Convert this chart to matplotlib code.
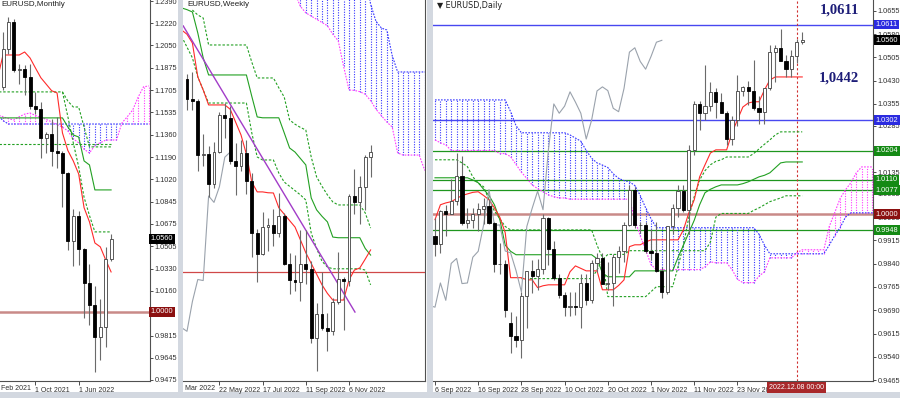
import numpy as np
import matplotlib
matplotlib.use('Agg')
import matplotlib.pyplot as plt
from matplotlib.transforms import blended_transform_factory as blend

# ---------------- monthly: Apr 2021 .. Dec 2022 (index 0..20) ----------------
m_open = [1.1730, 1.2020, 1.2228, 1.1858, 1.1870, 1.1807, 1.1579, 1.1558, 1.1338, 1.1370, 1.1234,
          1.1218, 1.1067, 1.0545, 1.0733, 1.0484, 1.0220, 1.0054, 0.9802, 0.9884, 1.0405]
m_high = [1.2150, 1.2266, 1.2254, 1.1909, 1.1900, 1.1909, 1.1692, 1.1616, 1.1386, 1.1483, 1.1495,
          1.1233, 1.1076, 1.0787, 1.0774, 1.0488, 1.0368, 1.0198, 1.0094, 1.0497, 1.0595]
m_low = [1.1704, 1.1986, 1.1847, 1.1752, 1.1664, 1.1563, 1.1524, 1.1186, 1.1222, 1.1121, 1.1106,
         1.0806, 1.0471, 1.0349, 1.0359, 0.9952, 0.9901, 0.9536, 0.9632, 0.9730, 1.0393]
m_close = [1.2020, 1.2228, 1.1858, 1.1870, 1.1807, 1.1579, 1.1558, 1.1338, 1.1370, 1.1234, 1.1218,
           1.1067, 1.0545, 1.0733, 1.0484, 1.0220, 1.0054, 0.9802, 0.9884, 1.0405, 1.0560]
# indicator lines, index -1..20
m_tenkan = [1.1800, 1.1975, 1.1975, 1.1975, 1.1975, 1.1998, 1.1952, 1.1875, 1.1800, 1.1750, 1.1700,
            1.1683, 1.1375, 1.1240, 1.1160, 1.1060, 1.0800, 1.0691, 1.0529, 1.0499, 1.0399, 1.0306]
m_kijun = [1.1491] * 13 + [1.1421, 1.1360, 1.1344, 1.1160, 1.1129, 1.0937, 1.0937, 1.0937, 1.0937]
m_dash_a = [1.1691] * 13 + [1.1620, 1.1575, 1.1575, 1.1420, 1.1268, 1.1268, 1.1268, 1.1268, 1.1268]
m_dash_b = [1.1291] * 22
# index 11..20
m_dash_c = [1.1691, 1.1500, 1.1300, 1.1114, 1.0880, 1.0740, 1.0614, 1.0614, 1.0614, 1.0614]
# cloud, index -1..27
m_span_a = [1.1514, 1.1470] + [1.1444] * 27
m_span_b = [1.1514, 1.1500, 1.1485, 1.1475, 1.1500, 1.1520, 1.1529, 1.1510, 1.1495, 1.1480, 1.1460,
            1.1440, 1.1420, 1.1390, 1.1330, 1.1300, 1.1250, 1.1221, 1.1280, 1.1300, 1.1320, 1.1321,
            1.1321, 1.1452, 1.1500, 1.1552, 1.1650, 1.1730, 1.1737]
m_yticks = [1.2390, 1.2220, 1.2050, 1.1875, 1.1705, 1.1535, 1.1360, 1.1190, 1.1020, 1.0845, 1.0675,
            1.0505, 1.0330, 1.0160, 0.9815, 0.9645, 0.9475]
m_xticks = [6, 14]
m_xlabels = ['1 Oct 2021', '1 Jun 2022']

# ---------------- weekly: 10 Apr 2022 .. 4 Dec 2022 (index 0..34) ----------------
w_open = [1.0900, 1.0807, 1.0797, 1.0545, 1.0551, 1.0411, 1.0561, 1.0734, 1.0719, 1.0518, 1.0497,
          1.0554, 1.0426, 1.0184, 1.0085, 1.0212, 1.0220, 1.0183, 1.0260, 1.0037, 0.9964, 0.9953,
          1.0037, 1.0015, 0.9690, 0.9802, 0.9740, 0.9723, 0.9862, 0.9965, 0.9960, 1.0355, 1.0325,
          1.0398, 1.0536]
w_high = [1.0925, 1.0936, 1.0807, 1.0642, 1.0590, 1.0607, 1.0748, 1.0787, 1.0774, 1.0601, 1.0614,
          1.0615, 1.0463, 1.0201, 1.0278, 1.0254, 1.0293, 1.0368, 1.0275, 1.0090, 1.0079, 1.0198,
          1.0197, 1.0051, 0.9854, 0.9999, 0.9809, 0.9877, 1.0094, 0.9976, 1.0365, 1.0481, 1.0449,
          1.0545, 1.0595]
w_low = [1.0757, 1.0758, 1.0471, 1.0493, 1.0350, 1.0390, 1.0556, 1.0627, 1.0506, 1.0359, 1.0470,
         1.0366, 1.0071, 0.9952, 1.0080, 1.0097, 1.0123, 1.0162, 1.0033, 0.9899, 0.9910, 0.9864,
         0.9945, 0.9668, 0.9536, 0.9730, 0.9632, 0.9705, 0.9850, 0.9730, 0.9935, 1.0270, 1.0222,
         1.0290, 1.0443]
w_close = [1.0807, 1.0797, 1.0545, 1.0551, 1.0411, 1.0561, 1.0734, 1.0719, 1.0518, 1.0497, 1.0554,
           1.0426, 1.0184, 1.0085, 1.0212, 1.0220, 1.0183, 1.0260, 1.0037, 0.9964, 0.9953, 1.0037,
           1.0015, 0.9690, 0.9802, 0.9740, 0.9723, 0.9862, 0.9965, 0.9960, 1.0355, 1.0325, 1.0398,
           1.0536, 1.0560]
# index -1..34
w_tenkan = [1.1130, 1.1110, 1.1069, 1.0911, 1.0850, 1.0780, 1.0780, 1.0780, 1.0780, 1.0760, 1.0700,
            1.0640, 1.0550, 1.0420, 1.0374, 1.0374, 1.0370, 1.0369, 1.0300, 1.0270, 1.0240, 1.0210,
            1.0150, 1.0090, 1.0040, 0.9990, 0.9940, 0.9900, 0.9869, 0.9869, 0.9869, 0.9963, 1.0009,
            1.0019, 1.0060, 1.0103]
w_kijun = [1.1233, 1.1225, 1.1214, 1.1116, 1.1000] + [1.0920] * 8 + [1.0820, 1.0724] + [1.0720] * 4 + \
          [1.0650, 1.0579, 1.0560, 1.0530, 1.0500, 1.0346, 1.0290, 1.0260, 1.0234, 1.0163] + \
          [1.0160] * 5 + [1.0110, 1.0079]
w_dash_b = [1.1100, 1.1050, 1.1000, 1.0911, 1.0850] + [1.0789] * 8 + [1.0649, 1.0537] + [1.0523] * 3 + \
           [1.0462, 1.0420, 1.0400, 1.0380, 1.0360, 1.0336, 1.0182, 1.0110, 1.0050, 1.0023] + \
           [1.0015] * 6 + [1.0009, 0.9940]
# index 1..34
w_dash_a = [1.1223, 1.1200, 1.1186, 1.1060] + [1.1060] * 7 + [1.0980, 1.0906] + [1.0906] * 3 + \
           [1.0860, 1.0817, 1.0710, 1.0690, 1.0675, 1.0663, 1.0537, 1.0444, 1.0400, 1.0360, 1.0327] + \
           [1.0313] * 5 + [1.0276, 1.0205]
# cloud, index 20..45
w_span_a = [1.1400] * 14 + [1.1250, 1.1170, 1.1139, 1.1130, 1.1010] + [1.0934] * 7
w_span_b = [1.1300, 1.1240, 1.1210, 1.1195, 1.1180, 1.1165, 1.1150, 1.1110, 1.1080, 1.0960, 1.0850,
            1.0848, 1.0842, 1.0830, 1.0800, 1.0760, 1.0730, 1.0700, 1.0677, 1.0556, 1.0546, 1.0546,
            1.0546, 1.0546, 1.0476, 1.0476]
w_trend = [1.1149, 0.9813]
w_trend_x = [-0.7, 31.1]
w_xticks = [6, 14, 22, 30]
w_xlabels = ['22 May 2022', '17 Jul 2022', '11 Sep 2022', '6 Nov 2022']

# ---------------- daily: 6 Sep 2022 .. 9 Dec 2022 (index 0..68) ----------------
d_open = [0.9930, 0.9903, 1.0010, 1.0000, 1.0042, 1.0122, 0.9972, 0.9980, 0.9999,
          1.0015, 1.0026, 0.9970, 0.9838, 0.9838,
          0.9650, 0.9608, 0.9594, 0.9737, 0.9816,
          0.9802, 0.9823, 0.9986, 0.9886, 0.9795,
          0.9740, 0.9700, 0.9705, 0.9700, 0.9778,
          0.9722, 0.9841, 0.9857, 0.9776, 0.9778,
          0.9861, 0.9880, 0.9965, 1.0079, 0.9964,
          0.9965, 0.9881, 0.9875, 0.9818, 0.9749,
          0.9960, 1.0019, 1.0074, 1.0014, 1.0207,
          1.0355, 1.0325, 1.0348, 1.0394, 1.0361,
          1.0325, 1.0242, 1.0303, 1.0397, 1.0410,
          1.0398, 1.0341, 1.0330, 1.0405, 1.0522,
          1.0536, 1.0492, 1.0467, 1.0508, 1.0554]
d_high = [0.9987, 1.0012, 1.0029, 1.0112, 1.0198, 1.0187, 1.0020, 1.0018, 1.0037,
          1.0051, 1.0050, 0.9976, 0.9907, 0.9852,
          0.9685, 0.9670, 0.9749, 0.9815, 0.9853,
          0.9855, 0.9999, 0.9990, 0.9913, 0.9806,
          0.9748, 0.9750, 0.9750, 0.9808, 0.9808,
          0.9853, 0.9874, 0.9875, 0.9847, 0.9871,
          0.9896, 0.9976, 1.0094, 1.0088, 0.9976,
          0.9976, 0.9952, 0.9976, 0.9830, 0.9962,
          1.0033, 1.0094, 1.0094, 1.0222, 1.0364,
          1.0363, 1.0481, 1.0427, 1.0405, 1.0391,
          1.0331, 1.0317, 1.0449, 1.0412, 1.0430,
          1.0497, 1.0382, 1.0406, 1.0545, 1.0545,
          1.0595, 1.0513, 1.0529, 1.0565, 1.0588]
d_low = [0.9864, 0.9876, 0.9929, 0.9999, 1.0030, 0.9966, 0.9955, 0.9954, 0.9945,
         0.9968, 0.9968, 0.9814, 0.9808, 0.9668,
         0.9553, 0.9570, 0.9536, 0.9633, 0.9747,
         0.9754, 0.9806, 0.9835, 0.9786, 0.9730,
         0.9670, 0.9670, 0.9676, 0.9632, 0.9707,
         0.9714, 0.9813, 0.9776, 0.9755, 0.9705,
         0.9809, 0.9845, 0.9960, 0.9955, 0.9940,
         0.9874, 0.9853, 0.9812, 0.9730, 0.9743,
         0.9935, 0.9990, 1.0006, 0.9935, 1.0191,
         1.0270, 1.0302, 1.0331, 1.0309, 1.0325,
         1.0222, 1.0224, 1.0283, 1.0381, 1.0350,
         1.0334, 1.0289, 1.0290, 1.0399, 1.0427,
         1.0499, 1.0443, 1.0443, 1.0487, 1.0549]
d_close = [0.9903, 1.0010, 1.0000, 1.0042, 1.0122, 0.9972, 0.9980, 0.9999, 1.0015,
           1.0026, 0.9970, 0.9838, 0.9838, 0.9690,
           0.9608, 0.9594, 0.9737, 0.9816, 0.9802,
           0.9823, 0.9986, 0.9886, 0.9795, 0.9740,
           0.9700, 0.9705, 0.9700, 0.9778, 0.9722,
           0.9841, 0.9857, 0.9776, 0.9778, 0.9861,
           0.9880, 0.9965, 1.0079, 0.9964, 0.9965,
           0.9881, 0.9875, 0.9818, 0.9749, 0.9960,
           1.0019, 1.0074, 1.0014, 1.0207, 1.0355,
           1.0325, 1.0348, 1.0394, 1.0361, 1.0325,
           1.0242, 1.0303, 1.0397, 1.0410, 1.0398,
           1.0341, 1.0330, 1.0405, 1.0522, 1.0536,
           1.0492, 1.0467, 1.0508, 1.0554, 1.0560]
# index 0..68
d_tenkan = [0.9982, 1.0030, 1.0036, 1.0040, 1.0050, 1.0060, 1.0065, 1.0070, 1.0072, 1.0060, 1.0046,
            1.0020, 0.9990, 0.9940, 0.9795, 0.9795, 0.9795, 0.9788, 0.9788, 0.9763, 0.9769, 0.9772,
            0.9772, 0.9772, 0.9772, 0.9814, 0.9833, 0.9825, 0.9817, 0.9817, 0.9817, 0.9756, 0.9756,
            0.9756, 0.9770, 0.9788, 0.9895, 0.9901, 0.9901, 0.9910, 0.9917, 0.9917, 0.9917, 0.9917,
            0.9917, 0.9917, 0.9949, 1.0004, 1.0046, 1.0120, 1.0159, 1.0197, 1.0207, 1.0207, 1.0207,
            1.0262, 1.0304, 1.0345, 1.0358, 1.0362, 1.0362, 1.0400, 1.0432, 1.0442, 1.0442, 1.0442,
            1.0442, 1.0442, 1.0442]
d_kijun = [1.0117] * 7 + [1.0110, 1.0101, 1.0080, 1.0060, 1.0030, 0.9982, 0.9900, 0.9880] + \
          [0.9869] * 15 + [0.9856, 0.9810] + [0.9798] * 5 + [0.9817] * 8 + \
          [0.9860, 0.9900, 0.9940, 0.9980, 1.0030, 1.0069, 1.0080, 1.0088] + [1.0094] * 4 + \
          [1.0098, 1.0104, 1.0112, 1.0120, 1.0125, 1.0133, 1.0149, 1.0165] + [1.0168] * 4
d_dash_a = [1.0175] * 5 + [1.0165, 1.0153, 1.0120, 1.0100, 1.0088, 1.0046, 1.0010, 0.9985, 0.9960] + \
           [0.9949] * 16 + [0.9900, 0.9859] + [0.9734] * 8 + [0.9750] + [0.9766] * 4 + \
           [0.9830, 0.9900, 0.9990, 1.0056, 1.0110, 1.0140, 1.0159, 1.0170, 1.0175] + [1.0184] * 5 + \
           [1.0195, 1.0210, 1.0225, 1.0239, 1.0255] + [1.0265] * 5
# index 16..68
d_dash_b = [0.9792] * 14 + [0.9820, 0.9853] + [0.9870] * 4 + [0.9882] * 15 + \
           [0.9910, 0.9990] + [1.0002] * 6 + [1.0012, 1.0020, 1.0030, 1.0040, 1.0046, 1.0052] + [1.0059] * 4
# cloud, index 0..81
d_span_a = [1.0368] * 14 + [1.0330, 1.0285] + [1.0262] * 9 + \
           [1.0255, 1.0245, 1.0235, 1.0205, 1.0180, 1.0165, 1.0158, 1.0150, 1.0130, 1.0115, 1.0108,
            1.0104, 1.0092, 1.0060, 1.0020, 0.9985] + [0.9956] * 19 + [0.9935, 0.9900] + [0.9872] * 11 + \
           [0.9900, 0.9930, 0.9956, 0.9990] + [1.0004] * 5
d_span_b = [1.0239, 1.0230, 1.0223] + [1.0205] * 9 + [1.0195, 1.0195, 1.0185, 1.0160, 1.0135, 1.0115,
            1.0094, 1.0082, 1.0072, 1.0062, 1.0056, 1.0052, 1.0052] + [1.0048] * 12 + \
           [0.9982, 0.9930, 0.9885, 0.9837] + [0.9821] * 9 + [0.9830, 0.9846, 0.9843, 0.9843, 0.9843] + \
           [0.9821, 0.9790, 0.9779, 0.9779, 0.9779, 0.9800, 0.9814] + [0.9859] * 5 + [0.9875] + \
           [0.9885] * 5 + [0.9960, 1.0004, 1.0050, 1.0078, 1.0101, 1.0133, 1.0152, 1.0152, 1.0152]
d_yticks = [1.0655, 1.0580, 1.0505, 1.0430, 1.0355, 1.0285, 1.0135, 1.0065, 0.9990, 0.9915, 0.9840,
            0.9765, 0.9690, 0.9615, 0.9540, 0.9465]
d_xticks = [0, 8, 16, 24, 32, 40, 48, 56]
d_xlabels = ['6 Sep 2022', '16 Sep 2022', '28 Sep 2022', '10 Oct 2022', '20 Oct 2022',
             '1 Nov 2022', '11 Nov 2022', '23 Nov 2022']
d_levels_blue = [1.0611, 1.0302]
d_levels_green = [1.0204, 1.0110, 1.0077, 0.9948]

# ---------------- styling ----------------
W, H = 900, 398
RED = '#ff2a2a'
GREEN = '#22a022'
BLUE = '#3535ff'
MAGENTA = '#ff3cff'
GREY = '#9aa2ac'
FS = 5.3      # price labels
FSX = 5.0     # date labels
plt.rcParams['font.family'] = ['Liberation Sans Narrow', 'Liberation Sans', 'DejaVu Sans']


def px(x0, y0, x1, y1):
    return [x0 / W, 1 - y1 / H, (x1 - x0) / W, (y1 - y0) / H]


def setup(ax, xlim, ylim, yt, xt, xl):
    ax.set_xlim(*xlim)
    ax.set_ylim(*ylim)
    for s in ['left', 'top']:
        ax.spines[s].set_visible(False)
    for s in ['right', 'bottom']:
        ax.spines[s].set_color('#505050')
        ax.spines[s].set_linewidth(0.8)
    ax.yaxis.tick_right()
    ax.set_yticks(yt, [f'{v:.4f}' for v in yt])
    ax.set_xticks(xt, xl)
    ax.tick_params(axis='y', length=2.5, width=0.6, pad=1.0, labelsize=FS, colors='#303030')
    ax.tick_params(axis='x', length=3, width=0.6, pad=1.5, labelsize=FSX, colors='#303030')
    for t in ax.get_xticklabels():
        t.set_ha('left')


def candles(ax, o, h, l, c, width=0.55):
    o, h, l, c = map(np.asarray, (o, h, l, c))
    x = np.arange(len(o))
    ax.vlines(x, l, h, color='#6a6a6a', lw=0.8, zorder=4)
    bull = c >= o
    ax.bar(x, np.abs(c - o), width, np.minimum(o, c), color=np.where(bull, 'white', 'black'),
           edgecolor=np.where(bull, '#404040', 'black'), linewidth=0.6, zorder=5)


def cloud(ax, start, a, b):
    a, b = np.asarray(a), np.asarray(b)
    x = np.arange(start, start + len(a))
    up = a >= b
    ax.vlines(x[up], b[up], a[up], colors=BLUE, linestyles=(0, (1, 1.3)), lw=0.8, zorder=2)
    ax.vlines(x[~up], a[~up], b[~up], colors=MAGENTA, linestyles=(0, (1, 1.3)), lw=0.8, zorder=2)
    ax.plot(x, a, color=BLUE, ls=(0, (1.5, 1.2)), lw=0.8, zorder=2)
    ax.plot(x, b, color=MAGENTA, ls=(0, (1.5, 1.2)), lw=0.8, zorder=2)


def line(ax, start, vals, color, ls='-', lw=0.8):
    ax.plot(np.arange(start, start + len(vals)), vals, color=color, ls=ls, lw=lw, zorder=3)


def box(ax, v, txt, fc):
    ax.text(1.006, v, txt, transform=blend(ax.transAxes, ax.transData), ha='left', va='center',
            fontsize=FS, color='white', clip_on=False, zorder=10,
            bbox=dict(boxstyle='square,pad=0.2', fc=fc, ec='none'))


fig = plt.figure(figsize=(9, 3.98), dpi=100, facecolor='#d3d8e0')
for x0, x1 in [(0, 178), (183, 427), (433, 900)]:
    fig.add_artist(plt.Rectangle((x0 / W, 1 - 392 / H), (x1 - x0) / W, 392 / H,
                                 transform=fig.transFigure, fc='white', ec='none', zorder=0))

DASH = (0, (2.2, 1.6))

# ---- monthly panel ----
ax1 = fig.add_axes(px(0, 0, 150, 381))
setup(ax1, (-0.56, 27.2), (0.9467, 1.2398), m_yticks, m_xticks, m_xlabels)
cloud(ax1, -1, m_span_a, m_span_b)
ax1.axhline(1.0, color='#c98a88', lw=1.8, zorder=1)
line(ax1, -1, m_dash_b, GREEN, DASH)
line(ax1, -1, m_dash_a, GREEN, DASH)
line(ax1, 11, m_dash_c, GREEN, DASH)
line(ax1, -1, m_kijun, GREEN)
line(ax1, -1, m_tenkan, RED)
candles(ax1, m_open, m_high, m_low, m_close)
box(ax1, 1.0560, '1.0560', 'black')
box(ax1, 1.0000, '1.0000', '#8b1010')
ax1.text(0.012, 0.997, 'EURUSD,Monthly', transform=ax1.transAxes, fontsize=5.8, color='#202020', va='top')
fig.text(1 / W, 1 - 388 / H, 'Feb 2021', fontsize=FSX, color='#303030', va='center')

# ---- weekly panel ----
ax2 = fig.add_axes(px(183, 0, 425, 381))
setup(ax2, (-0.74, 44.07), (0.9491, 1.1270), [], w_xticks, w_xlabels)
cloud(ax2, 20, w_span_a, w_span_b)
ax2.axhline(1.0, color='#d04848', lw=0.9, zorder=1)
line(ax2, 1, w_dash_a, GREEN, DASH)
line(ax2, -1, w_dash_b, GREEN, DASH)
line(ax2, -1, w_kijun, GREEN)
line(ax2, -1, w_tenkan, RED)
ax2.plot(np.arange(len(w_close)) - 26, w_close, color=GREY, lw=0.8, zorder=3)
ax2.plot(w_trend_x, w_trend, color='#a23cc8', lw=1.0, zorder=3)
candles(ax2, w_open, w_high, w_low, w_close)
ax2.text(0.017, 0.997, 'EURUSD,Weekly', transform=ax2.transAxes, fontsize=5.8, color='#202020', va='top')
fig.text(185 / W, 1 - 388 / H, 'Mar 2022', fontsize=FSX, color='#303030', va='center')

# ---- daily panel ----
ax3 = fig.add_axes(px(433, 0, 873, 381))
setup(ax3, (-0.37, 81.1), (0.9462, 1.0690), d_yticks, d_xticks, d_xlabels)
cloud(ax3, 0, d_span_a, d_span_b)
for v in d_levels_blue:
    ax3.axhline(v, color='#4848f0', lw=1.0, zorder=1)
for v in d_levels_green:
    ax3.axhline(v, color='#1e961e', lw=0.9, zorder=1)
ax3.axhline(1.0, color='#c98a88', lw=1.8, zorder=1)
ax3.axvline(67, color='#d03030', lw=0.8, ls=(0, (2, 2)), zorder=1)
line(ax3, 0, d_dash_a, GREEN, DASH)
line(ax3, 16, d_dash_b, GREEN, DASH)
line(ax3, 0, d_kijun, GREEN)
line(ax3, 0, d_tenkan, RED)
ax3.plot(np.arange(len(d_close)) - 26, d_close, color=GREY, lw=0.8, zorder=3)
candles(ax3, d_open, d_high, d_low, d_close, width=0.6)
box(ax3, 1.0611, '1.0611', '#2b2be0')
box(ax3, 1.0560, '1.0560', 'black')
box(ax3, 1.0302, '1.0302', '#2b2be0')
for v in d_levels_green:
    box(ax3, v, f'{v:.4f}', '#148a14')
box(ax3, 1.0000, '1.0000', '#8b1010')
ax3.text(74.8, 1.0658, '1,0611', fontsize=10.5, fontweight='bold', family='Liberation Serif',
         color='#1d1d78', ha='center', va='center')
ax3.text(74.8, 1.0439, '1,0442', fontsize=10.5, fontweight='bold', family='Liberation Serif',
         color='#1d1d78', ha='center', va='center')
ax3.text(67, -0.018, '2022.12.08 00:00', transform=blend(ax3.transData, ax3.transAxes), ha='center',
         va='center', fontsize=FSX, color='white', clip_on=False, zorder=10,
         bbox=dict(boxstyle='square,pad=0.3', fc='#a8282a', ec='none'))
ax3.text(0.009, 0.997, '\u25bc EURUSD,Daily', transform=ax3.transAxes, fontsize=5.8, color='#202020',
         va='top', family=['DejaVu Sans'])

fig.savefig('out.png', dpi=100, facecolor=fig.get_facecolor())
